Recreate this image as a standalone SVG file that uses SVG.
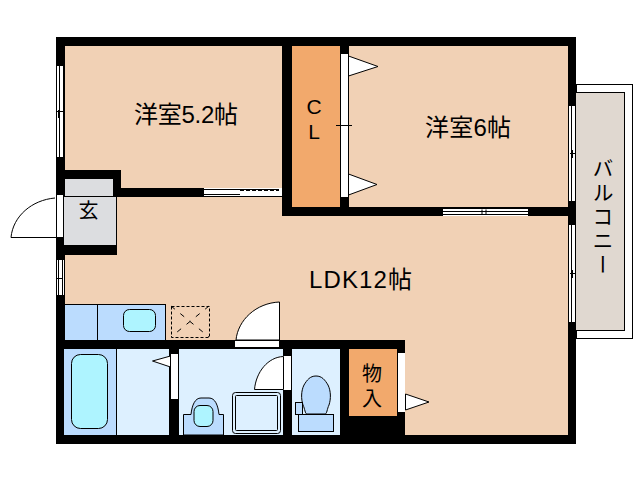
<svg xmlns="http://www.w3.org/2000/svg" width="638" height="480" viewBox="0 0 638 480">
<style>
.w{fill:#000}
.f{fill:#f1d1b5}
.o{fill:#f2a96c}
.b{fill:#bbdcfe;stroke:#000}
.bf{fill:#bbdcfe}
.l{fill:#ddf0ff}
.c{fill:#aef4ff;stroke:#000}
.g{fill:#dcdde0}
.line{fill:none;stroke:#000}
.d{fill:#fff;stroke:#000}
.wh{fill:#fff}
text{font-family:"Noto Sans CJK JP","Liberation Sans",sans-serif;fill:#000;font-size:24px}
.lat{font-family:"Liberation Sans","Noto Sans CJK JP",sans-serif}
</style>
<rect width="638" height="480" fill="#fff"/>
<g id="balcony">
<rect x="576.500" y="84.500" width="56" height="254" fill="#fff" stroke="#000"/>
<rect x="575.500" y="92.500" width="49" height="238" fill="#e0d8d0" stroke="#000"/>
<text style="writing-mode:vertical-rl;font-size:21px;letter-spacing:3px" x="603" y="158" lang="ja">バルコニー</text>
</g>
<g id="floor">
<rect class="f" x="60" y="42" width="512" height="398"/>
</g>
<g id="walls">
<rect class="w" x="56" y="37" width="520" height="9"/>
<rect class="w" x="56" y="37" width="9" height="407"/>
<rect class="w" x="56" y="435" width="520" height="9"/>
<rect class="w" x="568" y="37" width="8" height="407"/>
<rect class="w" x="282" y="37" width="10" height="179"/>
<rect class="w" x="283" y="207" width="66" height="9"/>
<rect class="w" x="340" y="37" width="9" height="179"/>
<rect class="w" x="349" y="207" width="227" height="9"/>
<rect class="w" x="65" y="170" width="56" height="9"/>
<rect class="w" x="113" y="170" width="8" height="27"/>
<rect class="w" x="113" y="188" width="170" height="9"/>
<rect class="w" x="56" y="245" width="61" height="10"/>
<rect class="w" x="56" y="340" width="349" height="9"/>
<rect class="w" x="169" y="340" width="10" height="104"/>
<rect class="w" x="283" y="340" width="9" height="104"/>
<rect class="w" x="340" y="340" width="9" height="104"/>
<rect class="w" x="340" y="416" width="65" height="28"/>
<rect class="w" x="397" y="340" width="8" height="104"/>
</g>
<g id="room-5-2">
<text class="lat" x="134" y="123" textLength="104">洋室5.2帖</text>
</g>
<g id="room-6">
<text class="lat" x="425" y="136" textLength="86">洋室6帖</text>
</g>
<g id="ldk">
<text class="lat" x="309" y="288" textLength="103">LDK12帖</text>
</g>
<g id="closet">
<rect class="o" x="292" y="46" width="48" height="161"/>
<text class="lat" style="font-size:21px"><tspan x="314" y="114" text-anchor="middle">C</tspan><tspan x="314" y="139" text-anchor="middle">L</tspan></text>
</g>
<g id="closet-doors">
<rect class="wh" x="341" y="54" width="7" height="143"/>
<path class="d" d="M348.500 56V76L378 66.500Z"/>
<path class="d" d="M348.500 174V195L377 184.500Z"/>
<path class="line" d="M336 125.500H352"/>
</g>
<g id="entrance">
<rect class="g" x="65" y="179" width="48" height="17"/>
<rect class="g" x="64" y="196" width="52" height="49"/>
<path class="line" d="M63 196.500H116.500V245"/>
<text x="88.500" y="218" text-anchor="middle" style="font-size:20px">玄</text>
</g>
<g id="entrance-door">
<rect class="d" x="56.500" y="194.500" width="7" height="43"/>
<path class="line" d="M55 198C32 200 13 216 11 237.500H56"/>
</g>
<g id="windows">
<g id="window-nw">
<rect class="wh" x="56" y="66" width="8" height="91"/>
<path class="line" d="M56.500 66V157M59.500 66V157M63.500 66V157M56 157.500H64M57 111.500H63M58.500 110V118"/>
</g>
<g id="window-w">
<rect class="wh" x="56" y="260" width="8" height="36"/>
<path class="line" d="M56.500 260V296M58.500 260V296M62.500 260V296M56 295.500H64M57 278.500H63"/>
</g>
<g id="window-n">
<rect class="wh" x="203" y="188" width="79" height="8"/>
<path class="line" d="M203.500 188V196M203 189.500H279M203 194.500H240"/>
<path class="line" d="M240 190.500H279" stroke-dasharray="4 2"/>
</g>
<g id="window-s">
<rect class="wh" x="443" y="208" width="86" height="8"/>
<path class="line" d="M443 208.500H529M443 211.500H529M443 214.500H529M528.500 208V216M482 209.500V214M486 209.500V214"/>
</g>
<g id="window-e1">
<rect class="wh" x="568" y="105" width="8" height="96"/>
<path class="line" d="M568.500 105V201M571.500 105V201M575.500 105V201M568 105.500H576M570 153.500H576M572.500 150V158"/>
</g>
<g id="window-e2">
<rect class="wh" x="568" y="224" width="8" height="98"/>
<path class="line" d="M568.500 224V322M571.500 224V322M575.500 224V322M568 224.500H576M570 273.500H576M572.500 270V278"/>
</g>
</g>
<g id="kitchen">
<rect class="b" x="64.500" y="304.500" width="101" height="36"/>
<path class="line" d="M97.500 304V340"/>
<rect class="c" x="123.500" y="309.500" width="32" height="22" rx="6"/>
<rect x="171.500" y="306.500" width="38" height="31" fill="none" stroke="#000" stroke-dasharray="3 2"/>
<path d="M171 306L209 337M209 306L171 337" fill="none" stroke="#000" stroke-dasharray="5 7"/>
<rect class="w" x="64" y="340" width="110" height="9"/>
</g>
<g id="ldk-door">
<rect class="d" x="234.500" y="340.500" width="45" height="7"/>
<path class="d" d="M279.500 302C256 303 238 320 236 340H279.500Z"/>
</g>
<g id="bath">
<rect class="l" x="64" y="349" width="105" height="86"/>
<rect class="bf" x="64" y="349" width="52" height="86"/>
<path class="line" d="M116.500 349V435"/>
<rect class="c" x="71.500" y="354.500" width="36" height="74" rx="9"/>
<rect class="wh" x="171" y="354" width="7" height="45"/>
<path class="d" d="M170.500 356V367L152.500 361Z"/>
</g>
<g id="washroom">
<rect class="l" x="179" y="349" width="104" height="86"/>
<path class="b" d="M183.500 435V414.500H191C192 405 195 398 201 398H209C215 398 218 405 219 414.500H223.500V435Z"/>
<rect class="c" x="194" y="405.500" width="19" height="21" rx="6"/>
<rect x="232.500" y="392.500" width="48" height="41" rx="3" fill="#ddf0ff" stroke="#000"/>
<rect x="235.500" y="395.500" width="42" height="35" rx="1" fill="none" stroke="#000"/>
<rect class="wh" x="283" y="356" width="8" height="34"/>
<path class="d" d="M283.500 356.500C268 357 256 372 254.500 389.500H283.500Z"/>
</g>
<g id="toilet">
<rect class="l" x="292" y="349" width="48" height="86"/>
<path class="b" d="M316 376C310 376 307 380 304 385C301 391 301 399 303 405C305 409 305 414 307 414H325C327 414 327 409 329 405C331 399 331 391 328 385C325 380 322 376 316 376Z"/>
<rect class="b" x="295.500" y="402.500" width="7" height="12"/>
<rect class="b" x="298.500" y="414.500" width="35" height="17"/>
</g>
<g id="storage">
<rect class="o" x="349" y="349" width="48" height="67"/>
<text style="font-size:20px"><tspan x="372" y="381" text-anchor="middle">物</tspan><tspan x="372" y="406" text-anchor="middle">入</tspan></text>
<rect class="wh" x="398" y="353" width="7" height="59"/>
<path class="d" d="M405.500 394V410L429 402Z"/>
</g>
</svg>
